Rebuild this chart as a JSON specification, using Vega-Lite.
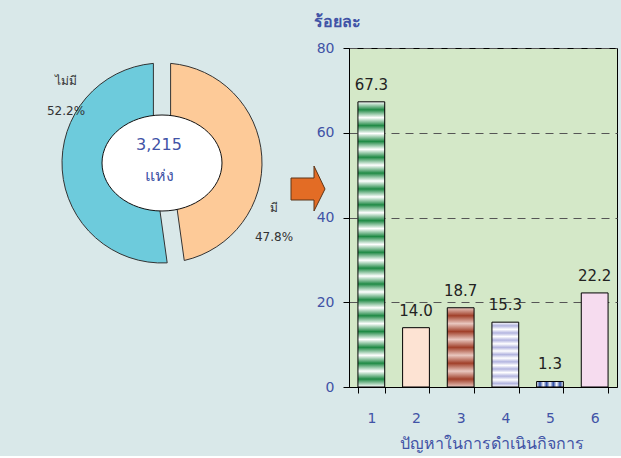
{
  "$schema": "https://vega.github.io/schema/vega-lite/v6.json",
  "background": "#d9e8e9",
  "padding": {"left": 0, "top": 12, "right": 4, "bottom": 4},
  "spacing": 25,
  "bounds": "flush",
  "config": {"font": "DejaVu Sans", "view": {"stroke": null}},
  "datasets": {
    "pie": [
      {"label": "มี", "pct": 47.8},
      {"label": "ไม่มี", "pct": 52.2}
    ],
    "bars": [
      {"problem": 1, "pct": 67.3},
      {"problem": 2, "pct": 14.0},
      {"problem": 3, "pct": 18.7},
      {"problem": 4, "pct": 15.3},
      {"problem": 5, "pct": 1.3},
      {"problem": 6, "pct": 22.2}
    ]
  },
  "hconcat": [
    {
      "width": 324,
      "height": 230,
      "view": {"stroke": null, "fill": "#d9e8e9"},
      "data": {"name": "pie"},
      "layer": [
        {
          "mark": {"type": "arc", "outerRadius": 100, "innerRadius": 40, "padAngle": 0.16, "stroke": "#333333", "strokeWidth": 1},
          "encoding": {
            "theta": {"field": "pct", "type": "quantitative", "stack": true},
            "order": {"field": "pct", "sort": "ascending"},
            "color": {"field": "label", "type": "nominal", "scale": {"domain": ["มี", "ไม่มี"], "range": ["#fdca98", "#6dcbdc"]}, "legend": null}
          }
        },
        {
          "transform": [{"filter": "datum.label === 'มี'"}],
          "mark": {"type": "point", "shape": "M-1,0 C-1,-0.4418 -0.5523,-0.8 0,-0.8 C0.5523,-0.8 1,-0.4418 1,0 C1,0.4418 0.5523,0.8 0,0.8 C-0.5523,0.8 -1,0.4418 -1,0 Z", "size": 14400, "filled": true, "fill": "#ffffff", "stroke": "#111111", "strokeWidth": 1, "opacity": 1},
          "encoding": {}
        },
        {
          "transform": [{"filter": "datum.label === 'มี'"}],
          "mark": {"type": "text", "fontSize": 16, "color": "#4153a6", "lineHeight": 31, "baseline": "middle", "dx": -3, "dy": -18},
          "encoding": {"text": {"value": ["3,215", "แห่ง"]}}
        },
        {
          "transform": [{"filter": "datum.label === 'ไม่มี'"}, {"calculate": "datum.label + '\\n' + format(datum.pct, '.1f') + '%'", "as": "lbl"}],
          "mark": {"type": "text", "fontSize": 12, "lineBreak": "\n", "lineHeight": 30, "color": "#333333", "baseline": "middle", "dx": -96, "dy": -82},
          "encoding": {"text": {"field": "lbl"}}
        },
        {
          "transform": [{"filter": "datum.label === 'มี'"}, {"calculate": "datum.label + '\\n' + format(datum.pct, '.1f') + '%'", "as": "lbl"}],
          "mark": {"type": "text", "fontSize": 12, "lineBreak": "\n", "lineHeight": 29, "color": "#333333", "baseline": "middle", "dx": 112, "dy": 45},
          "encoding": {"text": {"field": "lbl"}}
        },
        {
          "transform": [{"filter": "datum.label === 'มี'"}],
          "mark": {"type": "point", "shape": "M129,15 L152,15 L152,3 L163,26 L152,48 L152,37 L129,37 Z", "size": 4, "filled": true, "fill": "#e36c25", "stroke": "#5c3418", "strokeWidth": 1, "opacity": 1},
          "encoding": {}
        }
      ]
    },
    {
      "width": 268,
      "height": 339,
      "view": {"fill": "#d4e8c8", "stroke": "#000000", "strokeWidth": 1},
      "data": {"name": "bars"},
      "encoding": {
        "x": {
          "field": "problem", "type": "ordinal",
          "scale": {"paddingInner": 0.4, "paddingOuter": 0.2},
          "axis": {"title": "ปัญหาในการดำเนินกิจการ", "labelAngle": 0, "tickBand": "extent", "tickSize": 6, "tickColor": "#000000", "domainColor": "#000000", "labelColor": "#4153a6", "labelFontSize": 14, "labelPadding": 18, "titleColor": "#4153a6", "titleFontSize": 16, "titleFontWeight": "normal", "titlePadding": 10, "titleX": 142}
        },
        "y": {
          "field": "pct", "type": "quantitative",
          "scale": {"domain": [0, 80]},
          "axis": {"values": [0, 20, 40, 60, 80], "title": "ร้อยละ", "titleAngle": 0, "titleAlign": "left", "titleBaseline": "middle", "titleX": -36, "titleY": -27, "titleColor": "#4153a6", "titleFontSize": 16, "titleFontWeight": "bold", "labelColor": "#4153a6", "labelFontSize": 14, "labelPadding": 9, "tickSize": 6, "tickColor": "#000000", "domainColor": "#000000", "gridColor": "#555555", "gridDash": [8, 6], "gridWidth": 1.2}
        }
      },
      "layer": [
        {
          "mark": {"type": "bar", "stroke": "#000000", "strokeWidth": 1},
          "encoding": {
            "fill": {
              "condition": [
                {"test": "datum.problem == 1", "value": {"gradient": "linear", "x1": 0, "y1": 0, "x2": 0, "y2": 1, "stops": [
                  {"offset": 0, "color": "#ffffff"}, {"offset": 0.0278, "color": "#1f8a45"}, {"offset": 0.0556, "color": "#ffffff"}, {"offset": 0.0833, "color": "#1f8a45"},
                  {"offset": 0.1111, "color": "#ffffff"}, {"offset": 0.1389, "color": "#1f8a45"}, {"offset": 0.1667, "color": "#ffffff"}, {"offset": 0.1944, "color": "#1f8a45"},
                  {"offset": 0.2222, "color": "#ffffff"}, {"offset": 0.25, "color": "#1f8a45"}, {"offset": 0.2778, "color": "#ffffff"}, {"offset": 0.3056, "color": "#1f8a45"},
                  {"offset": 0.3333, "color": "#ffffff"}, {"offset": 0.3611, "color": "#1f8a45"}, {"offset": 0.3889, "color": "#ffffff"}, {"offset": 0.4167, "color": "#1f8a45"},
                  {"offset": 0.4444, "color": "#ffffff"}, {"offset": 0.4722, "color": "#1f8a45"}, {"offset": 0.5, "color": "#ffffff"}, {"offset": 0.5278, "color": "#1f8a45"},
                  {"offset": 0.5556, "color": "#ffffff"}, {"offset": 0.5833, "color": "#1f8a45"}, {"offset": 0.6111, "color": "#ffffff"}, {"offset": 0.6389, "color": "#1f8a45"},
                  {"offset": 0.6667, "color": "#ffffff"}, {"offset": 0.6944, "color": "#1f8a45"}, {"offset": 0.7222, "color": "#ffffff"}, {"offset": 0.75, "color": "#1f8a45"},
                  {"offset": 0.7778, "color": "#ffffff"}, {"offset": 0.8056, "color": "#1f8a45"}, {"offset": 0.8333, "color": "#ffffff"}, {"offset": 0.8611, "color": "#1f8a45"},
                  {"offset": 0.8889, "color": "#ffffff"}, {"offset": 0.9167, "color": "#1f8a45"}, {"offset": 0.9444, "color": "#ffffff"}, {"offset": 0.9722, "color": "#1f8a45"},
                  {"offset": 1, "color": "#ffffff"}]}},
                {"test": "datum.problem == 2", "value": "#fde3d3"},
                {"test": "datum.problem == 3", "value": {"gradient": "linear", "x1": 0, "y1": 0, "x2": 0, "y2": 1, "stops": [
                  {"offset": 0, "color": "#e9c7bf"}, {"offset": 0.1, "color": "#a1402a"}, {"offset": 0.2, "color": "#e9c7bf"}, {"offset": 0.3, "color": "#a1402a"},
                  {"offset": 0.4, "color": "#e9c7bf"}, {"offset": 0.5, "color": "#a1402a"}, {"offset": 0.6, "color": "#e9c7bf"}, {"offset": 0.7, "color": "#a1402a"},
                  {"offset": 0.8, "color": "#e9c7bf"}, {"offset": 0.9, "color": "#a1402a"}, {"offset": 1, "color": "#e9c7bf"}]}},
                {"test": "datum.problem == 4", "value": {"gradient": "linear", "x1": 0, "y1": 0, "x2": 0, "y2": 1, "stops": [
                  {"offset": 0, "color": "#ffffff"}, {"offset": 0.0556, "color": "#b3b5e0"}, {"offset": 0.1111, "color": "#ffffff"}, {"offset": 0.1667, "color": "#b3b5e0"},
                  {"offset": 0.2222, "color": "#ffffff"}, {"offset": 0.2778, "color": "#b3b5e0"}, {"offset": 0.3333, "color": "#ffffff"}, {"offset": 0.3889, "color": "#b3b5e0"},
                  {"offset": 0.4444, "color": "#ffffff"}, {"offset": 0.5, "color": "#b3b5e0"}, {"offset": 0.5556, "color": "#ffffff"}, {"offset": 0.6111, "color": "#b3b5e0"},
                  {"offset": 0.6667, "color": "#ffffff"}, {"offset": 0.7222, "color": "#b3b5e0"}, {"offset": 0.7778, "color": "#ffffff"}, {"offset": 0.8333, "color": "#b3b5e0"},
                  {"offset": 0.8889, "color": "#ffffff"}, {"offset": 0.9444, "color": "#b3b5e0"}, {"offset": 1, "color": "#ffffff"}]}},
                {"test": "datum.problem == 5", "value": {"gradient": "linear", "x1": 0, "y1": 0, "x2": 1, "y2": 0, "stops": [
                  {"offset": 0, "color": "#ffffff"}, {"offset": 0.125, "color": "#2b4da3"}, {"offset": 0.25, "color": "#ffffff"}, {"offset": 0.375, "color": "#2b4da3"},
                  {"offset": 0.5, "color": "#ffffff"}, {"offset": 0.625, "color": "#2b4da3"}, {"offset": 0.75, "color": "#ffffff"}, {"offset": 0.875, "color": "#2b4da3"},
                  {"offset": 1, "color": "#ffffff"}]}}
              ],
              "value": "#f6dcef"
            }
          }
        },
        {
          "mark": {"type": "text", "dy": -9, "baseline": "bottom", "fontSize": 15, "color": "#222222"},
          "encoding": {"text": {"field": "pct", "type": "quantitative", "format": ".1f"}}
        }
      ]
    }
  ]
}
